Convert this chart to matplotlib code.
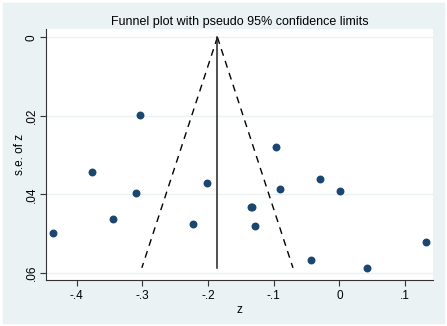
import numpy as np
import matplotlib.pyplot as plt
from matplotlib.patches import Rectangle

plt.rcParams['font.family'] = ['Liberation Sans', 'DejaVu Sans']

# study estimates (z) and their standard errors
z = [-0.3037, -0.0964, -0.3772, -0.0289, -0.2015, -0.0909, 0.0006, -0.3097, -0.1350,
     -0.1326, -0.3443, -0.2228, -0.1279, -0.4365, 0.1315, -0.0431, 0.0417]
se = [0.0198, 0.0279, 0.0342, 0.0360, 0.0372, 0.0387, 0.0391, 0.0397, 0.0431,
      0.0433, 0.0463, 0.0475, 0.0481, 0.0499, 0.0520, 0.0566, 0.0587]
pooled = -0.1857

x_ticks = [-0.4, -0.3, -0.2, -0.1, 0, 0.1]
x_labels = ['-.4', '-.3', '-.2', '-.1', '0', '.1']
y_ticks = [0, 0.02, 0.04, 0.06]
y_labels = ['0', '.02', '.04', '.06']

fig = plt.figure(figsize=(4.47, 3.26), dpi=100)
fig.patch.set_facecolor('white')
# light stata-style graph region, with a thin white margin round it
fig.patches.append(Rectangle((3 / 447, 3 / 326), 441 / 447, 320 / 326,
                             transform=fig.transFigure, color='#eaf2f3', zorder=-10))

ax = fig.add_axes([46 / 447, 46 / 326, 387 / 447, 251 / 326])
ax.set_facecolor('white')

# funnel: pseudo 95% limits around the pooled estimate
se_max = max(se)
se_line = np.array([0, se_max])
ax.plot(pooled - 1.96 * se_line, se_line, color='black', lw=1, ls=(0, (5, 4)))
ax.plot(pooled + 1.96 * se_line, se_line, color='black', lw=1, ls=(0, (5, 4)))
ax.plot([pooled, pooled], [0, se_max], color='#222222', lw=1.1)

ax.scatter(z, se, s=22, color='#1a476f', zorder=3)

ax.set_xlim(-0.4467, 0.1426)
ax.set_ylim(0.0618, -0.0021)
ax.set_xticks(x_ticks)
ax.set_xticklabels(x_labels)
ax.set_yticks(y_ticks)
ax.set_yticklabels(y_labels, rotation=90, va='center')
ax.grid(axis='y', color='#eaf2f3', lw=1)
ax.set_axisbelow(True)

for s in ['top', 'right']:
    ax.spines[s].set_visible(False)
for s in ['left', 'bottom']:
    ax.spines[s].set_color('#333333')
ax.tick_params(labelsize=8.5, length=4, color='#333333')
ax.tick_params(axis='y', pad=2)

ax.set_xlabel('z', fontsize=8.5, labelpad=1)
ax.set_ylabel('s.e. of z', fontsize=8.5, labelpad=-1)
ax.yaxis.set_label_coords(-20 / 387, 0.5)
ax.set_title('Funnel plot with pseudo 95% confidence limits', fontsize=9, pad=3)

fig.savefig('out.png', dpi=100)
